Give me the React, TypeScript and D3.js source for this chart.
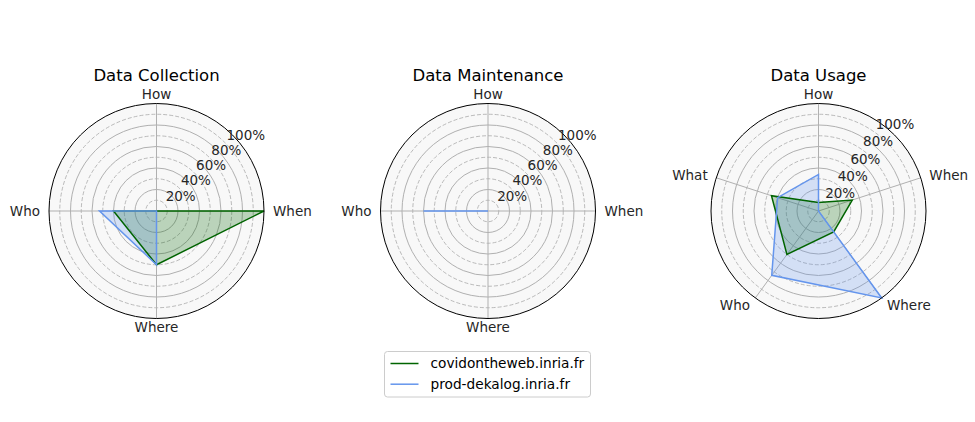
import { useEffect, useRef } from 'react';
import * as d3 from 'd3';

// Radar data (fractions, 1 = 100%)
const seriesNames = ['covidontheweb.inria.fr', 'prod-dekalog.inria.fr'];
const seriesColors = ['#006400', '#6495ed'];

const collectionAxes = ['How', 'When', 'Where', 'Who'];
const collectionCovid = [0, 1.0, 0.5, 0.4];
const collectionDekalog = [0, 0, 0.5, 0.53];

const maintenanceAxes = ['How', 'When', 'Where', 'Who'];
const maintenanceCovid = [0, 0, 0, 0];
const maintenanceDekalog = [0, 0, 0, 0.6];

const usageAxes = ['How', 'When', 'Where', 'Who', 'What'];
const usageCovid = [0.08, 0.33, 0.24, 0.5, 0.46];
const usageDekalog = [0.34, 0, 1.0, 0.74, 0.4];

const chartTitles = ['Data Collection', 'Data Maintenance', 'Data Usage'];
const majorTicks = [0.2, 0.4, 0.6, 0.8, 1.0];
const minorTicks = [0.1, 0.3, 0.5, 0.7, 0.9];
const tickLabels = ['20%', '40%', '60%', '80%', '100%'];

const FONT = '"DejaVu Sans", sans-serif';

export default function App() {
    const svgRef = useRef<SVGSVGElement>(null);

    useEffect(() => {
        if (!svgRef.current) return;
        const svg = d3.select(svgRef.current);
        svg.selectAll('*').remove();

        const width = 975;
        const height = 422;
        svg.attr('width', width).attr('height', height);

        svg.append('rect').attr('width', width).attr('height', height).attr('fill', '#fff');

        const charts = [
            { axes: collectionAxes, values: [collectionCovid, collectionDekalog], cx: 156.5 },
            { axes: maintenanceAxes, values: [maintenanceCovid, maintenanceDekalog], cx: 488 },
            { axes: usageAxes, values: [usageCovid, usageDekalog], cx: 818.5 },
        ];
        const cy = 211;
        const R = 107.5;

        const r = d3.scaleLinear().domain([0, 1]).range([0, R]);

        charts.forEach((chart, ci) => {
            const n = chart.axes.length;
            const angle = (i: number) => (i * 2 * Math.PI) / n;
            const g = svg.append('g').attr('transform', `translate(${chart.cx},${cy})`);

            // Background
            g.append('circle').attr('r', R).attr('fill', '#f8f8f8');

            // Grid circles
            g.selectAll('.minor')
                .data(minorTicks)
                .enter()
                .append('circle')
                .attr('r', d => r(d))
                .attr('fill', 'none')
                .attr('stroke', '#aaaaaa')
                .attr('stroke-width', 0.8)
                .attr('stroke-dasharray', '4,2');

            g.selectAll('.major')
                .data(majorTicks.filter(d => d < 1))
                .enter()
                .append('circle')
                .attr('r', d => r(d))
                .attr('fill', 'none')
                .attr('stroke', '#b0b0b0')
                .attr('stroke-width', 1);

            // Spokes
            chart.axes.forEach((_, i) => {
                const a = angle(i);
                g.append('line')
                    .attr('x1', 0)
                    .attr('y1', 0)
                    .attr('x2', R * Math.sin(a))
                    .attr('y2', -R * Math.cos(a))
                    .attr('stroke', '#b0b0b0')
                    .attr('stroke-width', 1);
            });

            // Series
            const line = d3.lineRadial<number>()
                .angle((_, i) => angle(i))
                .radius(d => r(d))
                .curve(d3.curveLinearClosed);

            chart.values.forEach((vals, si) => {
                g.append('path')
                    .attr('d', line(vals))
                    .attr('fill', seriesColors[si])
                    .attr('fill-opacity', 0.25)
                    .attr('stroke', 'none');
            });
            chart.values.forEach((vals, si) => {
                g.append('path')
                    .attr('d', line(vals))
                    .attr('fill', 'none')
                    .attr('stroke', seriesColors[si])
                    .attr('stroke-width', 1.5)
                    .attr('stroke-linejoin', 'miter');
            });

            // Outer spine
            g.append('circle')
                .attr('r', R)
                .attr('fill', 'none')
                .attr('stroke', '#000')
                .attr('stroke-width', 1);

            // Radial tick labels
            const la = Math.PI / n;
            g.selectAll('.rlabel')
                .data(majorTicks)
                .enter()
                .append('text')
                .attr('x', d => r(d) * Math.sin(la) - 6)
                .attr('y', d => -r(d) * Math.cos(la))
                .attr('dy', '0.35em')
                .attr('text-anchor', 'start')
                .style('font-family', FONT)
                .style('font-size', '13.5px')
                .style('fill', '#262626')
                .text((_, i) => tickLabels[i]);

            // Axis labels
            chart.axes.forEach((name, i) => {
                const a = angle(i);
                const s = Math.sin(a);
                const c = Math.cos(a);
                const anchor = Math.abs(s) < 0.01 ? 'middle' : s > 0 ? 'start' : 'end';
                g.append('text')
                    .attr('x', (R + 9) * s)
                    .attr('y', -(R + 9) * c)
                    .attr('dy', '0.35em')
                    .attr('text-anchor', anchor)
                    .style('font-family', FONT)
                    .style('font-size', '13.5px')
                    .style('fill', '#262626')
                    .text(name);
            });

            // Title
            g.append('text')
                .attr('x', 0)
                .attr('y', 81 - cy)
                .attr('text-anchor', 'middle')
                .style('font-family', FONT)
                .style('font-size', '16.5px')
                .style('fill', '#000')
                .text(chartTitles[ci]);
        });

        // Legend
        const legend = svg.append('g').attr('transform', 'translate(384.5,351.5)');
        legend.append('rect')
            .attr('width', 206)
            .attr('height', 45.5)
            .attr('rx', 3)
            .attr('fill', '#fff')
            .attr('stroke', '#cccccc')
            .attr('stroke-width', 1);

        seriesNames.forEach((name, i) => {
            const y = 12 + i * 20.7;
            legend.append('line')
                .attr('x1', 6)
                .attr('x2', 34)
                .attr('y1', y)
                .attr('y2', y)
                .attr('stroke', seriesColors[i])
                .attr('stroke-width', 1.5);
            legend.append('text')
                .attr('x', 46)
                .attr('y', y)
                .attr('dy', '0.35em')
                .style('font-family', FONT)
                .style('font-size', '13.7px')
                .style('fill', '#000')
                .text(name);
        });
    }, []);

    return (
        <div style={{ position: 'absolute', left: 0, top: 0 }}>
            <svg ref={svgRef} style={{ display: 'block' }} />
        </div>
    );
}
